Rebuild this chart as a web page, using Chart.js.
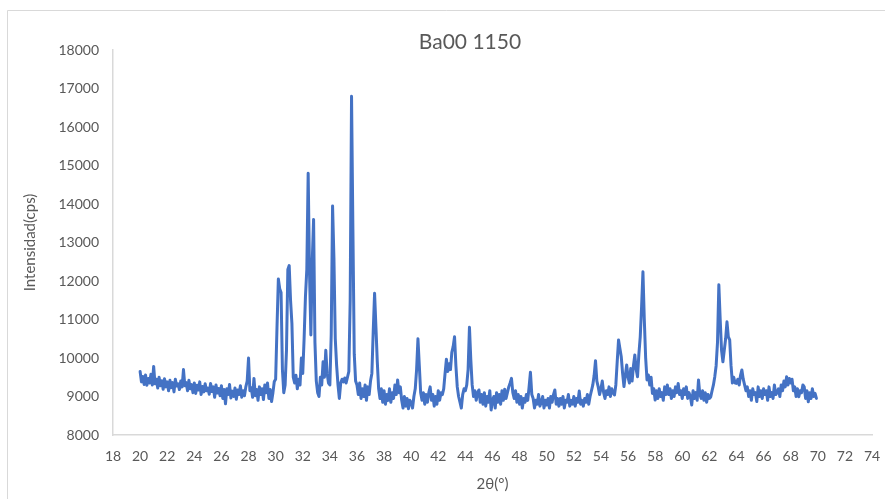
<!DOCTYPE html>
<html>
<head>
<meta charset="utf-8">
<title>Ba00 1150</title>
<script src="https://cdn.jsdelivr.net/npm/chart.js@4"></script>
<style>
  html, body { margin: 0; padding: 0; background: #ffffff; }
  #wrap { position: relative; width: 885px; height: 499px; }
</style>
</head>
<body>
<div id="wrap"><canvas id="xrdChart"></canvas></div>
<script>
// Scan settings (degrees 2θ)
const scanStart = 20.0;
const scanStep = 0.1;

// Measured intensity (cps), one row per degree, 20.0 .. 69.9
const intensity = [
  9650, 9380, 9520, 9310, 9560, 9290, 9470, 9350, 9580, 9300, // 20
  9780, 9330, 9450, 9220, 9500, 9280, 9410, 9190, 9460, 9250, // 21
  9380, 9150, 9420, 9230, 9360, 9120, 9450, 9270, 9330, 9180, // 22
  9400, 9250, 9700, 9280, 9360, 9150, 9420, 9200, 9310, 9100, // 23
  9350, 9080, 9290, 9170, 9380, 9050, 9260, 9120, 9330, 9150, // 24
  9220, 9060, 9340, 9130, 9250, 8980, 9300, 9090, 9210, 9020, // 25
  9280, 8950, 9180, 8810, 9200, 9050, 9310, 8960, 9140, 9000, // 26
  9220, 8930, 9170, 9050, 9280, 8980, 9150, 9020, 9250, 9400, // 27
  10000, 9150, 9230, 8980, 9470, 9020, 9180, 8900, 9250, 9050, // 28
  9200, 8920, 9300, 9100, 9350, 8950, 9180, 8870, 9100, 9390, // 29
  9450, 10800, 12050, 11800, 11700, 9700, 9100, 9300, 10200, 12300, // 30
  12400, 11500, 10900, 9500, 9350, 9550, 9200, 9450, 9300, 10000, // 31
  9600, 10500, 11600, 12300, 14800, 12200, 10600, 12500, 13600, 10400, // 32
  9400, 9100, 9000, 9500, 9300, 9900, 9500, 10200, 9600, 9350, // 33
  9300, 10600, 13950, 12600, 10500, 9800, 9300, 8950, 9350, 9450, // 34
  9380, 9480, 9350, 9500, 9650, 11500, 16800, 13350, 10100, 9400, // 35
  9300, 9050, 9350, 8950, 9200, 9000, 9300, 8900, 9250, 9050, // 36
  9400, 9600, 10700, 11680, 10800, 9900, 9200, 8950, 9200, 8850, // 37
  9150, 8800, 9050, 8900, 9200, 8850, 9100, 8950, 9300, 9050, // 38
  9430, 9100, 9250, 8900, 8700, 9000, 8750, 8950, 8680, 8900, // 39
  8850, 8700, 9000, 9200, 9700, 10500, 9800, 9100, 8900, 9100, // 40
  8800, 9050, 8850, 9100, 9250, 8900, 9050, 8750, 9000, 8800, // 41
  9150, 8900, 9100, 9050, 9200, 9600, 9970, 9650, 9850, 9700, // 42
  10150, 10300, 10550, 9800, 9250, 9000, 8850, 8700, 9050, 9200, // 43
  9150, 9300, 9700, 10800, 9950, 9300, 9000, 9150, 8900, 9100, // 44
  9170, 8850, 9050, 8800, 9100, 8750, 9000, 8850, 9150, 8650, // 45
  8900, 9000, 8700, 9100, 8850, 9050, 8800, 9150, 8900, 9190, // 46
  8950, 9100, 9250, 9350, 9470, 9100, 8950, 9150, 8850, 9050, // 47
  8800, 9000, 8700, 8950, 8850, 9050, 8900, 9250, 9630, 9050, // 48
  8950, 8700, 8900, 8800, 9050, 8750, 8850, 9000, 8700, 8900, // 49
  8780, 8950, 8700, 9000, 8850, 9050, 9170, 8800, 8950, 8750, // 50
  8950, 8800, 9000, 8700, 8900, 8850, 9050, 8750, 8900, 8800, // 51
  9000, 8750, 8950, 8850, 9140, 8800, 8900, 8750, 8950, 8850, // 52
  9050, 8800, 9000, 9150, 9300, 9550, 9930, 9400, 9250, 9050, // 53
  9200, 9400, 9100, 8950, 9150, 9050, 9250, 9000, 9200, 9100, // 54
  9040, 9300, 9900, 10470, 10250, 10030, 9600, 9260, 9550, 9820, // 55
  9500, 9350, 9730, 9400, 9800, 10080, 9700, 9515, 10100, 10550, // 56
  11330, 12240, 11000, 10000, 9430, 9560, 9300, 9500, 9080, 9200, // 57
  8910, 9150, 8950, 9200, 9000, 9100, 8900, 9250, 9050, 9300, // 58
  9050, 9200, 8950, 9150, 9000, 9250, 9100, 9340, 9050, 9150, // 59
  8950, 9200, 9050, 9250, 8950, 9100, 9000, 8780, 9150, 8950, // 60
  9100, 8900, 9430, 9050, 8950, 9150, 8900, 9100, 8850, 9050, // 61
  8950, 8990, 9150, 9300, 9515, 9800, 10400, 11900, 11000, 10200, // 62
  9900, 10200, 10500, 10940, 10550, 10470, 9800, 9350, 9500, 9350, // 63
  9340, 9450, 9300, 9550, 9690, 9450, 9300, 9150, 9250, 9000, // 64
  9150, 8900, 9200, 9050, 9100, 8870, 9250, 9000, 9150, 8950, // 65
  9200, 9050, 9150, 8900, 9250, 9000, 9100, 8950, 9300, 9050, // 66
  9100, 9200, 9000, 9300, 9150, 9400, 9250, 9515, 9300, 9470, // 67
  9350, 9450, 9150, 9250, 9000, 9200, 8995, 9150, 9100, 9300, // 68
  9250, 8950, 9150, 8865, 9100, 8950, 9200, 9000, 9082, 8950  // 69
];

// 2θ for every reading
const twoTheta = intensity.map((_, i) => +(scanStart + i * scanStep).toFixed(2));

const chartTitle = "Ba00 1150";
const xTitle = "2θ(°)";
const yTitle = "Intensidad(cps)";

const textGrey = "#595959";
const axisGrey = "#d9d9d9";
const lineBlue = "#4472c4";

// white background plus the thin frame around the chart
const framePlugin = {
  id: "frame",
  beforeDraw(chart) {
    const ctx = chart.ctx;
    ctx.save();
    ctx.fillStyle = "#ffffff";
    ctx.fillRect(0, 0, chart.width, chart.height);
    ctx.strokeStyle = axisGrey;
    ctx.lineWidth = 1;
    ctx.beginPath();
    ctx.moveTo(7.5, chart.height);
    ctx.lineTo(7.5, 10.5);
    ctx.lineTo(chart.width, 10.5);
    ctx.stroke();
    ctx.restore();
  }
};

// chart title, sits a bit right of the canvas centre
const titlePlugin = {
  id: "topTitle",
  afterDraw(chart) {
    const ctx = chart.ctx;
    ctx.save();
    ctx.fillStyle = textGrey;
    ctx.font = "21px Lato";
    ctx.textAlign = "center";
    ctx.textBaseline = "middle";
    ctx.fillText(chartTitle, 470, 42);
    ctx.restore();
  }
};

const points = twoTheta.map((t, i) => ({ x: t, y: intensity[i] }));

new Chart(document.getElementById("xrdChart"), {
  type: "line",
  data: {
    datasets: [{
      data: points,
      borderColor: lineBlue,
      borderWidth: 3,
      pointRadius: 0,
      tension: 0,
      borderJoinStyle: "round",
      borderCapStyle: "round"
    }]
  },
  options: {
    responsive: true,
    maintainAspectRatio: false,
    animation: false,
    layout: {
      padding: { left: 7, top: 50, right: 13, bottom: 0 }
    },
    plugins: {
      legend: { display: false },
      tooltip: { enabled: false }
    },
    scales: {
      x: {
        type: "linear",
        min: 18,
        max: 74,
        grid: { display: false, drawTicks: false },
        border: { display: true, color: axisGrey, width: 1.5 },
        ticks: {
          stepSize: 2,
          padding: 13,
          color: textGrey,
          font: { family: "Lato", size: 14 },
          maxRotation: 0,
          autoSkip: false,
          callback: (v) => String(v)
        },
        title: {
          display: true,
          text: xTitle,
          color: textGrey,
          font: { family: "Lato", size: 15 },
          padding: { top: 4, bottom: 6 }
        },
        afterFit(scale) {
          scale.height = 64;
          // the last label only needs half its width past the axis end
          scale.paddingRight = 0;
        }
      },
      y: {
        min: 8000,
        max: 18000,
        grid: { display: false, drawTicks: false },
        border: { display: true, color: axisGrey, width: 1.5 },
        ticks: {
          stepSize: 1000,
          padding: 14,
          color: textGrey,
          font: { family: "Lato", size: 14 },
          callback: (v) => String(v)
        },
        title: {
          display: true,
          text: yTitle,
          color: textGrey,
          font: { family: "Lato", size: 15 },
          padding: { top: 14, bottom: 4 }
        },
        afterFit(scale) { scale.width = 106; }
      }
    }
  },
  plugins: [framePlugin, titlePlugin]
});
</script>
</body>
</html>
